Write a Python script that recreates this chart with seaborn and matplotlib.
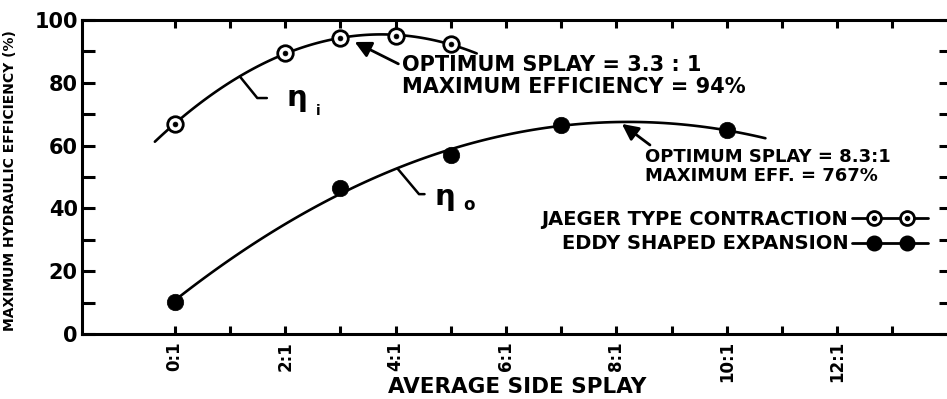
import matplotlib
matplotlib.use("Agg")
import matplotlib.pyplot as plt
from matplotlib.lines import Line2D
from matplotlib.legend_handler import HandlerLine2D
from matplotlib.ticker import MultipleLocator, FixedLocator
import seaborn as sns
import pandas as pd

# values
splay_in = [0, 2, 3, 4, 5]
eff_in = [66.9, 89.5, 94.3, 94.9, 92.4]      # Jaeger type contraction
splay_out = [0, 3, 5, 7, 10]
eff_out = [10.2, 46.5, 57.0, 66.6, 65.0]     # eddy shaped expansion

# extent of the fitted curves
fit_in_range = (-0.36, 5.47)
fit_out_range = (0.0, 10.7)

xticks = [0, 2, 4, 6, 8, 10, 12]
xticklabels = ["0:1", "2:1", "4:1", "6:1", "8:1", "10:1", "12:1"]
xminor = [1, 3, 5, 7, 9, 11, 13]
yticks = [0, 20, 40, 60, 80, 100]

sns.set_theme(style="ticks")
plt.rcParams["font.family"] = ["DejaVu Sans"]
plt.rcParams["font.weight"] = "bold"
plt.rcParams["axes.labelweight"] = "bold"
for key in ["text.color", "axes.labelcolor", "xtick.color", "ytick.color",
            "xtick.labelcolor", "ytick.labelcolor", "axes.edgecolor"]:
    plt.rcParams[key] = "black"

df_in = pd.DataFrame({"splay": splay_in, "eff": eff_in})
df_out = pd.DataFrame({"splay": splay_out, "eff": eff_out})

fig = plt.figure(figsize=(9.47, 3.99), dpi=100)
ax = fig.add_axes([82 / 947, 1 - 334 / 399, (952 - 82) / 947, (334 - 20) / 399])

line_kws = dict(color="black", lw=1.9)
# quadratic trend lines, drawn over their own x extent
ax.set_xlim(*fit_in_range)
sns.regplot(data=df_in, x="splay", y="eff", order=2, ci=None, scatter=False,
            truncate=False, ax=ax, line_kws=line_kws)
ax.set_xlim(*fit_out_range)
sns.regplot(data=df_out, x="splay", y="eff", order=2, ci=None, scatter=False,
            truncate=False, ax=ax, line_kws=line_kws)

sns.scatterplot(data=df_in, x="splay", y="eff", marker="o", s=125, color="white",
                edgecolor="black", linewidth=2, ax=ax, zorder=3)
sns.scatterplot(data=df_in, x="splay", y="eff", marker="o", s=12, color="black",
                edgecolor="black", linewidth=0.5, ax=ax, zorder=4)
sns.scatterplot(data=df_out, x="splay", y="eff", marker="o", s=140, color="black",
                edgecolor="black", linewidth=0.5, ax=ax, zorder=3)

ax.set_xlim(-1.68, 14.08)
ax.set_ylim(0, 100)

ax.set_xticks(xticks, labels=xticklabels, rotation=90)
ax.xaxis.set_minor_locator(FixedLocator(xminor))
ax.set_yticks(yticks)
ax.yaxis.set_minor_locator(MultipleLocator(10))
ax.tick_params(which="both", direction="in", top=True, right=True,
               width=2.2, color="black")
ax.tick_params(axis="x", which="both", length=5.8, labelsize=12, pad=5)
ax.tick_params(axis="y", which="both", length=9.5, labelsize=15, pad=3)
for sp in ax.spines.values():
    sp.set_visible(True)
    sp.set_linewidth(2.2)
    sp.set_color("black")

ax.set_xlabel("AVERAGE SIDE SPLAY", fontsize=15.5, fontweight="bold")
ax.xaxis.set_label_coords(0.5, -0.137)
ax.set_ylabel("MAXIMUM HYDRAULIC EFFICIENCY (%)", fontsize=10, fontweight="bold")
ax.yaxis.set_label_coords(-0.075, 0.49)

# optimum annotations
ax.annotate("OPTIMUM SPLAY = 3.3 : 1\nMAXIMUM EFFICIENCY = 94%",
            xy=(3.26, 93.0), xytext=(4.11, 82.2), ha="left", va="center",
            fontsize=15, fontweight="bold", linespacing=1.1,
            arrowprops=dict(arrowstyle="-|>,head_length=0.65,head_width=0.33",
                            color="black", lw=2, relpos=(0, 0.75),
                            shrinkA=0, shrinkB=0))
ax.annotate("OPTIMUM SPLAY = 8.3:1\nMAXIMUM EFF. = 767%",
            xy=(8.1, 66.9), xytext=(8.51, 53.3), ha="left", va="center",
            fontsize=13, fontweight="bold", linespacing=1.05,
            arrowprops=dict(arrowstyle="-|>,head_length=0.75,head_width=0.37",
                            color="black", lw=2, relpos=(0.04, 1.0),
                            shrinkA=0, shrinkB=0))

# curve labels with leader lines
ax.annotate("η", xy=(1.18, 82.0), xytext=(2.03, 72.6), ha="left", va="baseline",
            fontsize=21, fontweight="bold",
            arrowprops=dict(arrowstyle="-", color="black", lw=1.8,
                            connectionstyle="angle,angleA=0,angleB=-51,rad=0",
                            relpos=(0, 0.5), shrinkA=12, shrinkB=0))
ax.text(2.55, 69.7, "i", fontsize=10, fontweight="bold", va="baseline")
ax.annotate("η", xy=(4.04, 52.6), xytext=(4.71, 41.1), ha="left", va="baseline",
            fontsize=21, fontweight="bold",
            arrowprops=dict(arrowstyle="-", color="black", lw=1.8,
                            connectionstyle="angle,angleA=0,angleB=-50,rad=0",
                            relpos=(0, 0.6), shrinkA=5, shrinkB=0))
ax.text(5.23, 39.5, "o", fontsize=12, fontweight="bold", va="baseline")

# legend: text first, line with two markers after it
line_h = Line2D([], [], color="black", lw=2)
ring_h = Line2D([], [], ls="none", marker="o", ms=10, mfc="white", mec="black", mew=2)
dot_h = Line2D([], [], ls="none", marker="o", ms=3, color="black")
fill_h = Line2D([], [], ls="none", marker="o", ms=10.5, color="black")
pts = HandlerLine2D(numpoints=2, marker_pad=1.1)
handler_map = {line_h: HandlerLine2D(numpoints=1), ring_h: pts, dot_h: pts, fill_h: pts}
ax.legend(handles=[(line_h, ring_h, dot_h), (line_h, fill_h)],
          labels=["JAEGER TYPE CONTRACTION", "EDDY SHAPED EXPANSION"],
          handler_map=handler_map, markerfirst=False, frameon=False,
          prop=dict(weight="bold", size=14), handlelength=3.9, handletextpad=0.2,
          labelspacing=0.3, borderpad=0, borderaxespad=0,
          loc="center right", bbox_to_anchor=(928 / 947, 1 - 231.5 / 399),
          bbox_transform=fig.transFigure)

fig.savefig("out.png", dpi=100)
